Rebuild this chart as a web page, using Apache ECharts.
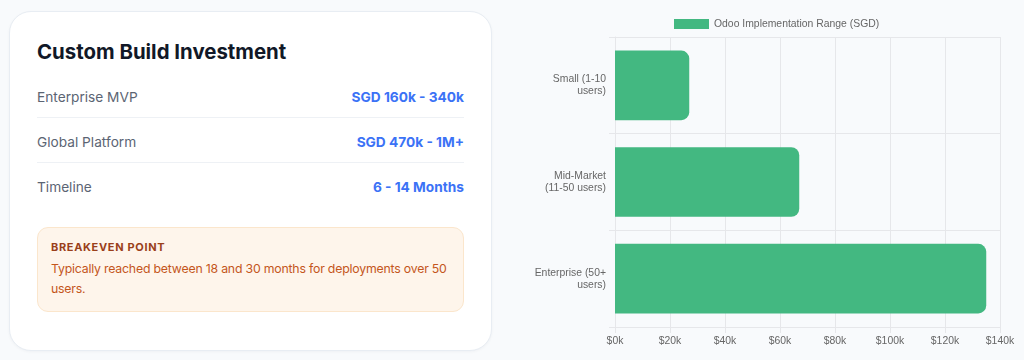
<!DOCTYPE html>
<html>
<head>
<meta charset="utf-8">
<title>Custom Build Investment</title>
<script src="https://cdn.jsdelivr.net/npm/echarts@6/dist/echarts.min.js"></script>
<style>
  html, body { margin: 0; padding: 0; }
  body {
    width: 1024px; height: 360px; overflow: hidden; position: relative;
    background: #f8fafc; font-family: Inter, "Noto Sans", sans-serif;
  }
  .card {
    position: absolute; left: 9px; top: 11px; width: 481px; height: 338px;
    background: #fff; border: 1px solid #e8edf3; border-radius: 22px;
    box-shadow: 0 1px 3px rgba(15, 23, 42, 0.04);
    box-sizing: content-box;
  }
  .inner { position: absolute; left: 27px; right: 27px; top: 26px; }
  h2 {
    margin: 0; font-size: 20.4px; line-height: 28px; font-weight: 700; color: #111827;
  }
  .row {
    display: flex; justify-content: space-between;
    padding: 14px 0 10px; font-size: 13.7px; line-height: 20px;
    border-bottom: 1px solid #eef1f5;
  }
  .row:first-of-type { margin-top: 7px; }
  .row.last { border-bottom: none; }
  .row .k { color: #5b6473; }
  .row .v { color: #3b72f6; font-weight: 700; }
  .note {
    margin-top: 20px; background: #fef5eb; border: 1px solid #fbe6cc;
    border-radius: 11px; padding: 12px 12px 12px 13px;
  }
  .note .t {
    font-size: 11px; line-height: 14px; font-weight: 700; letter-spacing: 0.06em;
    color: #9a3f1a; text-transform: uppercase;
  }
  .note .d {
    margin-top: 5px; font-size: 12.3px; letter-spacing: -0.2px; line-height: 20px; color: #c4561c;
  }
  #chart { position: absolute; left: 512px; top: 0; width: 512px; height: 360px; }
</style>
</head>
<body>
<div class="card">
  <div class="inner">
    <h2>Custom Build Investment</h2>
    <div class="row"><span class="k">Enterprise MVP</span><span class="v">SGD 160k - 340k</span></div>
    <div class="row"><span class="k">Global Platform</span><span class="v">SGD 470k - 1M+</span></div>
    <div class="row last"><span class="k">Timeline</span><span class="v">6 - 14 Months</span></div>
    <div class="note">
      <div class="t">Breakeven Point</div>
      <div class="d">Typically reached between 18 and 30 months for deployments over 50 users.</div>
    </div>
  </div>
</div>
<div id="chart"></div>
<script>
  // chart data
  const seriesName = 'Odoo Implementation Range (SGD)';
  const categories = ['Small (1-10\nusers)', 'Mid-Market\n(11-50 users)', 'Enterprise (50+\nusers)'];
  const values = [27000, 67000, 135000];
  const xTicks = [0, 20000, 40000, 60000, 80000, 100000, 120000, 140000];

  const gridColor = '#e6e7ea';
  const labelColor = '#666';
  const chartFont = '"Liberation Sans", Arial, Helvetica, sans-serif';
  const fontSize = 10.4;

  let myChart = echarts.init(document.getElementById('chart'));
  let option = {
    animation: false,
    textStyle: { fontFamily: chartFont },
    legend: {
      left: 162,
      top: 19,
      padding: 0,
      icon: 'rect',
      itemWidth: 35,
      itemHeight: 10,
      itemGap: 10,
      textStyle: { color: labelColor, fontSize: fontSize, fontFamily: chartFont },
      data: [seriesName]
    },
    grid: { left: 103, right: 24, top: 37, bottom: 33 },
    xAxis: {
      type: 'value',
      min: xTicks[0],
      max: xTicks[xTicks.length - 1],
      interval: xTicks[1] - xTicks[0],
      axisLine: { show: true, lineStyle: { color: gridColor } },
      axisTick: { show: true, length: 6, lineStyle: { color: gridColor } },
      splitLine: { show: true, lineStyle: { color: gridColor } },
      axisLabel: {
        color: labelColor, fontSize: fontSize, fontFamily: chartFont, margin: 9,
        formatter: v => '$' + (v / 1000) + 'k'
      }
    },
    yAxis: {
      type: 'category',
      inverse: true,
      data: categories,
      axisLine: { show: true, lineStyle: { color: gridColor } },
      axisTick: { show: true, length: 6, lineStyle: { color: gridColor } },
      splitLine: { show: true, lineStyle: { color: gridColor } },
      axisLabel: {
        color: labelColor, fontSize: fontSize, fontFamily: chartFont, margin: 9,
        lineHeight: 12, align: 'right'
      }
    },
    series: [
      {
        name: seriesName,
        type: 'bar',
        data: values,
        barWidth: '72%',
        itemStyle: { color: '#43b881', borderRadius: [0, 8, 8, 0] }
      }
    ]
  };
  myChart.setOption(option);
</script>
</body>
</html>
